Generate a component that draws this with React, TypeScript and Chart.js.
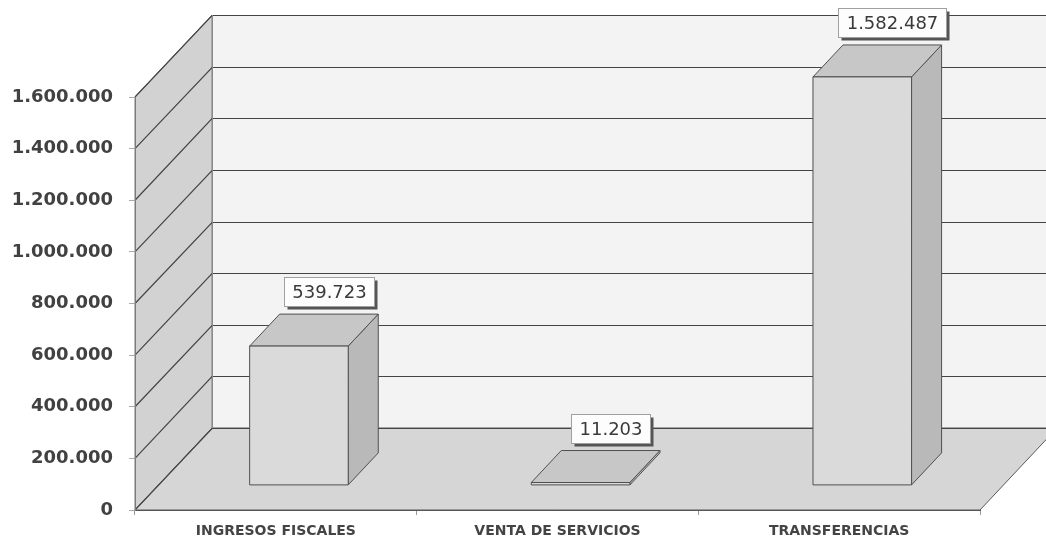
import React, { useEffect, useRef } from 'react';
import { Chart, registerables } from 'chart.js';

Chart.register(...registerables);

const categories = ['INGRESOS FISCALES', 'VENTA DE SERVICIOS', 'TRANSFERENCIAS'];
const values = [539723, 11203, 1582487];
const yMin = 0;
const yMax = 1600000;
const yStep = 200000;

const fmt = (v: number) => Math.round(v).toString().replace(/\B(?=(\d{3})+(?!\d))/g, '.');

// 3D depth projection (full depth offset of the back wall)
const DX = 77;
const DY = -82;
const BAR_D0 = 0.3;
const BAR_D1 = 0.69;

const threeD = {
  id: 'threeD',
  beforeDraw(chart: any) {
    const { ctx, chartArea: a, scales } = chart;
    const y = scales.y;
    const L = a.left;
    const R = a.right;
    const T = y.getPixelForValue(yMax);
    const B = y.getPixelForValue(yMin);
    const P = (px: number, py: number, d: number): [number, number] => [px + d * DX, py + d * DY];
    const poly = (pts: [number, number][], fill: string | null, stroke: string | null) => {
      ctx.beginPath();
      ctx.moveTo(pts[0][0], pts[0][1]);
      for (let i = 1; i < pts.length; i++) ctx.lineTo(pts[i][0], pts[i][1]);
      ctx.closePath();
      if (fill) { ctx.fillStyle = fill; ctx.fill(); }
      if (stroke) { ctx.strokeStyle = stroke; ctx.lineWidth = 1; ctx.stroke(); }
    };
    ctx.save();
    // back wall
    poly([P(L, T, 1), P(R, T, 1), P(R, B, 1), P(L, B, 1)], '#f3f3f3', null);
    // left wall
    poly([[L, B], [L, T], P(L, T, 1), P(L, B, 1)], '#d2d2d2', '#7a7a7a');
    // floor
    poly([[L, B], [R, B], P(R, B, 1), P(L, B, 1)], '#d6d6d6', '#5a5a5a');
    // grid lines
    ctx.strokeStyle = '#444444';
    ctx.lineWidth = 1.2;
    for (let v = yMin; v <= yMax; v += yStep) {
      const yy = y.getPixelForValue(v);
      const yb = Math.round(yy + DY) + 0.5;
      ctx.beginPath();
      ctx.moveTo(L, yy);
      ctx.lineTo(L + DX, yb);
      ctx.lineTo(R + DX, yb);
      ctx.stroke();
    }
    // back wall left edge
    ctx.lineWidth = 1;
    ctx.strokeStyle = '#8a8a8a';
    ctx.beginPath();
    ctx.moveTo(Math.round(L + DX) + 0.5, T + DY);
    ctx.lineTo(Math.round(L + DX) + 0.5, B + DY);
    ctx.stroke();
    ctx.restore();
  },
  afterDatasetsDraw(chart: any) {
    const { ctx } = chart;
    const meta = chart.getDatasetMeta(0);
    const P = (px: number, py: number, d: number): [number, number] => [px + d * DX, py + d * DY];
    const poly = (pts: [number, number][], fill: string) => {
      ctx.beginPath();
      ctx.moveTo(pts[0][0], pts[0][1]);
      for (let i = 1; i < pts.length; i++) ctx.lineTo(pts[i][0], pts[i][1]);
      ctx.closePath();
      ctx.fillStyle = fill;
      ctx.fill();
      ctx.strokeStyle = '#505050';
      ctx.lineWidth = 1;
      ctx.stroke();
    };
    ctx.save();
    meta.data.forEach((el: any, i: number) => {
      const w = el.width;
      const l = el.x - w / 2;
      const r = el.x + w / 2;
      const top = el.y;
      const base = el.base;
      // right side
      poly([P(r, top, BAR_D0), P(r, base, BAR_D0), P(r, base, BAR_D1), P(r, top, BAR_D1)], '#b9b9b9');
      // top
      poly([P(l, top, BAR_D0), P(r, top, BAR_D0), P(r, top, BAR_D1), P(l, top, BAR_D1)], '#c7c7c7');
      // front
      poly([P(l, top, BAR_D0), P(r, top, BAR_D0), P(r, base, BAR_D0), P(l, base, BAR_D0)], '#dadada');

      // value label
      const text = fmt(values[i]);
      ctx.font = '18px "DejaVu Sans"';
      const tw = ctx.measureText(text).width;
      const bw = Math.round(tw + 16);
      const bh = 29;
      const cx = el.x + BAR_D1 * DX;
      const bottom = top + BAR_D1 * DY - 8;
      const x0 = Math.round(cx - bw / 2) + 0.5;
      const y0 = Math.round(bottom - bh) + 0.5;
      ctx.fillStyle = '#555555';
      ctx.fillRect(x0 + 3, y0 + 3, bw, bh);
      ctx.fillStyle = '#fdfdfd';
      ctx.fillRect(x0, y0, bw, bh);
      ctx.strokeStyle = '#a0a0a0';
      ctx.strokeRect(x0, y0, bw, bh);
      ctx.fillStyle = '#3a3a3a';
      ctx.textAlign = 'center';
      ctx.textBaseline = 'middle';
      ctx.fillText(text, x0 + bw / 2, y0 + bh / 2 + 1);
    });
    ctx.restore();
  },
};

export default function App() {
  const ref = useRef<HTMLCanvasElement | null>(null);
  useEffect(() => {
    if (!ref.current) return;
    const chart = new Chart(ref.current, {
      type: 'bar',
      data: {
        labels: categories,
        datasets: [
          {
            data: values,
            backgroundColor: 'rgba(0,0,0,0)',
            borderWidth: 0,
            categoryPercentage: 1,
            barPercentage: 0.35,
          },
        ],
      },
      options: {
        responsive: false,
        animation: false,
        events: [],
        layout: { padding: { top: 97, right: 66, left: 0, bottom: 0 } },
        plugins: { legend: { display: false }, tooltip: { enabled: false } },
        scales: {
          x: {
            grid: { display: true, drawOnChartArea: false, drawTicks: true, tickLength: 5, color: '#999999', offset: true },
            border: { display: true, color: '#555555' },
            ticks: {
              font: { family: 'DejaVu Sans', size: 14, weight: 'bold' },
              color: '#444444',
              padding: 8,
              maxRotation: 0,
              autoSkip: false,
            },
            afterFit: (s: any) => { s.height = 33; },
          },
          y: {
            min: yMin,
            max: yMax,
            grid: { display: true, drawOnChartArea: false, drawTicks: true, tickLength: 6, color: '#aaaaaa' },
            border: { display: true, color: '#7a7a7a' },
            ticks: {
              stepSize: yStep,
              callback: (v: any) => fmt(Number(v)),
              font: { family: 'DejaVu Sans', size: 18, weight: 'bold' },
              color: '#414141',
              padding: 16,
            },
            afterFit: (s: any) => { s.width = 135; },
          },
        },
      },
      plugins: [threeD],
    });
    return () => chart.destroy();
  }, []);
  return (
    <div style={{ position: 'fixed', left: 0, top: 0, width: 1046, height: 543, background: '#ffffff' }}>
      <canvas ref={ref} width={1046} height={543} style={{ display: 'block' }} />
    </div>
  );
}
